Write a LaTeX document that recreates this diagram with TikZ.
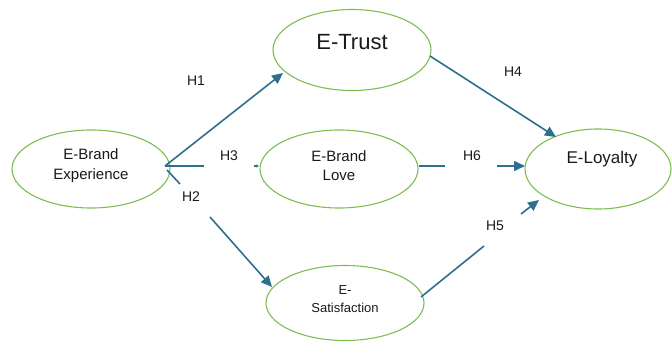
\documentclass[tikz,border=0pt]{standalone}
\usepackage{fontspec}
\setmainfont{Liberation Sans}
\usetikzlibrary{arrows.meta,shapes.geometric}
\definecolor{ring}{HTML}{7DBE52}
\definecolor{pathcol}{HTML}{2E6E8E}
\begin{document}
\begin{tikzpicture}[x=1pt,y=-1pt,
  construct/.style={draw=ring,line width=1.1pt,ellipse,inner sep=0pt},
  caption/.style={align=center,inner sep=0pt,text=black!90},
  link/.style={draw=pathcol,line width=1.6pt},
  tip/.style={link,-{Triangle[length=11pt,width=10pt]}},
  hyp/.style={font=\fontsize{14}{16}\selectfont,text=black!90}]
\useasboundingbox (0,0) rectangle (672,342);

% constructs
\node[construct,minimum width=158pt,minimum height=78pt] (exp) at (91,169) {};
\node[construct,minimum width=158pt,minimum height=81pt] (trust) at (352,50) {};
\node[construct,minimum width=158pt,minimum height=78pt] (love) at (339,169) {};
\node[construct,minimum width=146pt,minimum height=80pt] (loyal) at (598,169) {};
\node[construct,minimum width=158pt,minimum height=75pt] (sat) at (345,303) {};

% construct names
\node[caption,font=\fontsize{15}{20}\selectfont] (exptxt) at ([yshift=3pt]exp.center) {E-Brand\\Experience};
\node[caption,font=\fontsize{22}{24}\selectfont] (trusttxt) at ([yshift=8pt]trust.center) {E-Trust};
\node[caption,font=\fontsize{15}{19}\selectfont] (lovetxt) at ([yshift=3pt]love.center) {E-Brand\\Love};
\node[caption,font=\fontsize{17}{19}\selectfont] (loyaltxt) at ([xshift=4pt,yshift=10pt]loyal.center) {E-Loyalty};
\node[caption,font=\fontsize{13}{18}\selectfont] (sattxt) at ([yshift=4pt]sat.center) {E-\\Satisfaction};

% path end points
\coordinate (src) at (165,166);
\coordinate (t1) at (283,73);
\coordinate (h3a) at (204,166);
\coordinate (h3b) at (254,166);
\coordinate (h3c) at (259,166);
\coordinate (h2s) at (167,170);
\coordinate (h2a) at (180,184);
\coordinate (h2b) at (210,217);
\coordinate (h2c) at (272,287);
\coordinate (h4a) at (430,56);
\coordinate (h4b) at (556,137);
\coordinate (h6a) at (419,166);
\coordinate (h6b) at (445,166);
\coordinate (h6c) at (497,166);
\coordinate (h6d) at (525,166);
\coordinate (h5a) at (421,297);
\coordinate (h5b) at (484,246);
\coordinate (h5c) at (521,214);
\coordinate (h5d) at (539,200);

% H1
\draw[tip] (src) -- (t1);
% H3
\draw[link] (src) -- (h3a);
\draw[link,-{Triangle[length=3pt,width=3pt]}] (h3b) -- (h3c);
% H2
\draw[link] (h2s) -- (h2a);
\draw[tip] (h2b) -- (h2c);
% H4
\draw[tip] (h4a) -- (h4b);
% H6
\draw[link] (h6a) -- (h6b);
\draw[tip] (h6c) -- (h6d);
% H5
\draw[link] (h5a) -- (h5b);
\draw[tip] (h5c) -- (h5d);

% hypothesis labels
\node[hyp] (l1) at (196,81) {H1};
\node[hyp] (l3) at (229,156) {H3};
\node[hyp] (l2) at (191,197) {H2};
\node[hyp] (l4) at (513,72) {H4};
\node[hyp] (l6) at (472,156) {H6};
\node[hyp] (l5) at (495,226) {H5};
\end{tikzpicture}
\end{document}
